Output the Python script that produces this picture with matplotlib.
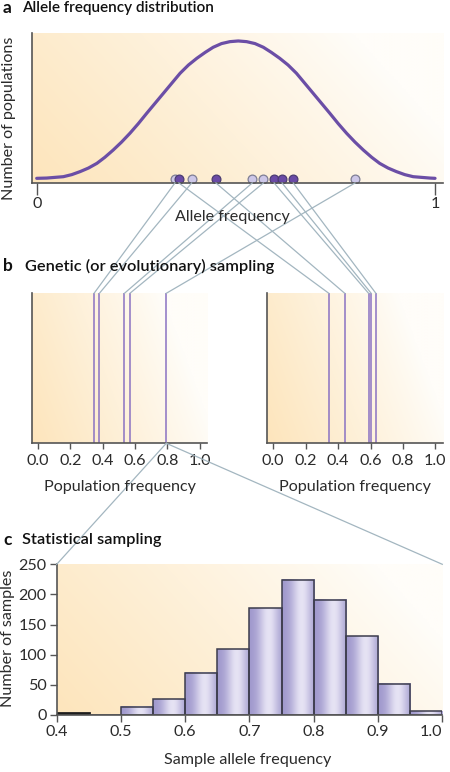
import matplotlib
matplotlib.use('Agg')
import matplotlib.pyplot as plt
import numpy as np
from matplotlib.lines import Line2D

plt.rcParams['font.family'] = ['Lato', 'DejaVu Sans']

# ---------------- data ----------------
# panel a: allele frequency distribution curve
curve_x = [0.000, 0.025, 0.046, 0.067, 0.088, 0.109, 0.130, 0.151, 0.171, 0.192,
           0.213, 0.234, 0.255, 0.276, 0.297, 0.318, 0.339, 0.360, 0.381, 0.402,
           0.423, 0.443, 0.464, 0.485, 0.506,
           0.527, 0.548, 0.569, 0.589, 0.610, 0.631, 0.652, 0.673, 0.694, 0.715,
           0.736, 0.757, 0.778, 0.799, 0.820, 0.841, 0.861, 0.882, 0.903, 0.924,
           0.945, 0.966, 0.987, 1.000]
curve_y = [0.000, 0.002, 0.007, 0.012, 0.027, 0.049, 0.075, 0.109, 0.153, 0.206,
           0.264, 0.328, 0.398, 0.473, 0.546, 0.619, 0.692, 0.765, 0.825, 0.874,
           0.917, 0.954, 0.981, 0.995, 1.000,
           0.995, 0.981, 0.954, 0.917, 0.874, 0.825, 0.765, 0.692, 0.619, 0.546,
           0.473, 0.398, 0.328, 0.264, 0.206, 0.153, 0.109, 0.075, 0.049, 0.027,
           0.012, 0.007, 0.002, 0.000]
dots_light = [0.347, 0.389, 0.541, 0.569, 0.799]
dots_dark = [0.357, 0.450, 0.596, 0.616, 0.644]

# panel b: population frequencies after genetic sampling
lines_left = [0.346, 0.379, 0.534, 0.568, 0.793]
lines_right = [0.343, 0.441, 0.588, 0.604, 0.633]
b_ticks = [0.0, 0.2, 0.4, 0.6, 0.8, 1.0]
b_ticklabels = ['0.0', '0.2', '0.4', '0.6', '0.8', '1.0']

# panel c: histogram of sample allele frequency
bin_edges = [0.40, 0.45, 0.50, 0.55, 0.60, 0.65, 0.70, 0.75, 0.80, 0.85, 0.90, 0.95, 1.00]
counts = [3, 0, 14, 26, 70, 109, 177, 224, 191, 131, 52, 6]
c_xticks = [0.4, 0.5, 0.6, 0.7, 0.8, 0.9, 1.0]
c_xticklabels = ['0.4', '0.5', '0.6', '0.7', '0.8', '0.9', '1.0']
c_yticks = [0, 50, 100, 150, 200, 250]

# ---------------- styling ----------------
W, H = 450, 772
fig = plt.figure(figsize=(4.5, 7.72), dpi=100)
TXT = '#2b2b2b'
SPINE = '#555555'
CONN = '#a3b6c0'
PURPLE = '#6b4ea6'
LINEP = '#8a72c2'
FS = 11.6
TFS = 11.8


def fx(px):
    return px / W


def fy(py):
    return 1 - py / H


def add_axes(l, t, r, b):
    return fig.add_axes([l / W, 1 - b / H, (r - l) / W, (b - t) / H])


def background(ax, kx=0.95, ky=0.4, gamma=1.0):
    u = np.linspace(0, 1, 200)
    v = np.linspace(0, 1, 100)
    U, V = np.meshgrid(u, v)
    t = np.clip(1 - kx * U - ky * V, 0, 1) ** gamma
    peach = np.array([253, 229, 188]) / 255
    white = np.array([255, 253, 249]) / 255
    img = white + (peach - white) * t[..., None]
    ax.imshow(img, extent=(0, 1, 0, 1), transform=ax.transAxes, origin='lower',
              aspect='auto', zorder=0, interpolation='bilinear')


def style(ax):
    for s in ['top', 'right']:
        ax.spines[s].set_visible(False)
    for s in ['left', 'bottom']:
        ax.spines[s].set_color(SPINE)
        ax.spines[s].set_linewidth(1.2)
        ax.spines[s].set_zorder(5)


axA = add_axes(31.7, 33, 443, 183)
axBL = add_axes(31.7, 293.3, 207, 443.3)
axBR = add_axes(266.7, 293.3, 442.7, 443.3)
axC = add_axes(56.7, 564.3, 442.3, 715)

# ----- panel a -----
background(axA, 0.9, 0.3, 0.9)
axA.plot(curve_x, curve_y, color=PURPLE, lw=2.3, solid_capstyle='round',
         solid_joinstyle='round', zorder=3)
axA.scatter(dots_light, [-0.005] * len(dots_light), s=40, c='#cdc7e8',
            edgecolors='#7e7e94', linewidths=0.9, zorder=4)
axA.scatter(dots_dark, [-0.005] * len(dots_dark), s=40, c='#6a4aa6',
            edgecolors='#4b3c72', linewidths=0.9, zorder=4)
axA.set_xlim(-0.0126, 1.020)
axA.set_ylim(-0.034, 1.058)
axA.set_xticks([0, 1])
axA.set_xticklabels(['0', '1'])
axA.set_yticks([])
axA.tick_params(axis='x', length=8.6, width=1.0, color=SPINE, pad=1.5,
                labelsize=FS, labelcolor=TXT)
style(axA)

# ----- panel b -----
for ax, vals in [(axBL, lines_left), (axBR, lines_right)]:
    background(ax, 0.95, 0.3, 0.9)
    ax.vlines(vals, 0, 1, color=LINEP, lw=1.1, zorder=3)
    ax.set_xlim(-0.04, 1.045)
    ax.set_ylim(0, 1)
    ax.set_xticks(b_ticks)
    ax.set_xticklabels(b_ticklabels)
    ax.set_yticks([])
    ax.tick_params(axis='x', length=4.5, width=1.0, color=SPINE, pad=3.0,
                   labelsize=FS, labelcolor=TXT)
    style(ax)

# ----- panel c -----
background(axC, 0.85, 0.3, 0.9)
g = np.linspace(0, 1, 64)
prof = np.exp(-((g - 0.6) / 0.32) ** 2)
dark = np.array([158, 151, 204]) / 255
light = np.array([230, 227, 244]) / 255
grad = (dark + (light - dark) * prof[:, None])[None, :, :]
for i, cnt in enumerate(counts):
    if cnt <= 0:
        continue
    l, r = bin_edges[i], bin_edges[i + 1]
    axC.imshow(grad, extent=(l, r, 0, cnt), origin='lower', aspect='auto',
               zorder=2, interpolation='bilinear')
edge_cols = ['#1e1e1e' if i == 0 else '#3c3c4c' for i in range(len(counts))]
axC.bar(bin_edges[:-1], counts, width=np.diff(bin_edges), align='edge', fill=False,
        edgecolor=edge_cols, linewidth=[2.0] + [1.1] * (len(counts) - 1), zorder=3)
axC.set_xlim(0.4, 1.0)
axC.set_ylim(0, 250)
axC.set_xticks(c_xticks)
axC.set_xticklabels(c_xticklabels)
axC.set_yticks(c_yticks)
axC.tick_params(length=4.8, width=1.0, color=SPINE, pad=2.5,
                labelsize=FS, labelcolor=TXT)
axC.get_xticklabels()[-1].set_horizontalalignment('right')
style(axC)

# ----- texts -----
fig.text(fx(3), fy(8), 'a', fontweight='bold', fontsize=12.5, va='center', color='#111111')
fig.text(fx(22), fy(8), 'Allele frequency distribution', fontweight='semibold',
         fontsize=11, va='center', color='#111111')
fig.text(fx(3), fy(266), 'b', fontweight='bold', fontsize=12.5, va='center', color='#111111')
fig.text(fx(25), fy(266), 'Genetic (or evolutionary) sampling', fontweight='semibold',
         fontsize=TFS, va='center', color='#111111')
fig.text(fx(3), fy(540), 'c', fontweight='bold', fontsize=12.5, va='center', color='#111111')
fig.text(fx(22), fy(540), 'Statistical sampling', fontweight='semibold',
         fontsize=TFS, va='center', color='#111111')

fig.text(fx(9), fy(118), 'Number of populations', rotation=90, ha='center',
         va='center', fontsize=FS, color=TXT)
fig.text(fx(232), fy(217), 'Allele frequency', ha='center', va='center',
         fontsize=FS, color=TXT)
fig.text(fx(119.5), fy(487), 'Population frequency', ha='center', va='center',
         fontsize=FS, color=TXT)
fig.text(fx(355), fy(487), 'Population frequency', ha='center', va='center',
         fontsize=FS, color=TXT)
fig.text(fx(8), fy(638), 'Number of samples', rotation=90, ha='center',
         va='center', fontsize=FS, color=TXT)
fig.text(fx(248), fy(760), 'Sample allele frequency', ha='center', va='center',
         fontsize=FS, color=TXT)

# ----- connectors -----
inv = fig.transFigure.inverted()


def to_fig(ax, x, y):
    return inv.transform(ax.transData.transform((x, y)))


def connect(p0, p1):
    fig.add_artist(Line2D([p0[0], p1[0]], [p0[1], p1[1]], transform=fig.transFigure,
                          color=CONN, lw=0.9, zorder=1))


yA0 = axA.get_ylim()[0]
for d, t in zip(dots_light, lines_left):
    connect(to_fig(axA, d, yA0), to_fig(axBL, t, 1))
for d, t in zip(dots_dark, lines_right):
    connect(to_fig(axA, d, yA0), to_fig(axBR, t, 1))

src = to_fig(axBL, lines_left[-1], 0)
connect(src, to_fig(axC, 0.4, 250))
connect(src, to_fig(axC, 1.0, 250))

fig.savefig('out.png', dpi=100)
